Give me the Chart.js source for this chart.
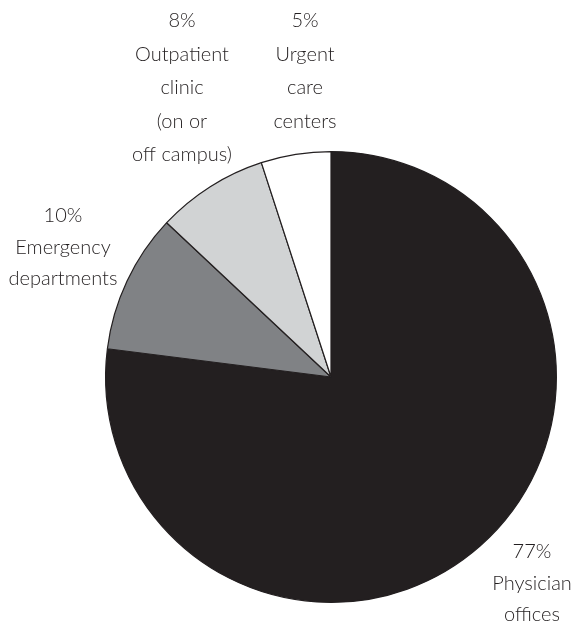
<!DOCTYPE html>
<html>
<head>
<meta charset="utf-8">
<script src="https://cdn.jsdelivr.net/npm/chart.js@4"></script>
<style>
  html, body { margin: 0; padding: 0; background: #fff; }
  #wrap { width: 572px; height: 624px; }
</style>
</head>
<body>
<div id="wrap"><canvas id="careChart" width="572" height="624"></canvas></div>
<script>
// Datos del gráfico
const categories = [
    ['Physician', 'offices'],
    ['Emergency', 'departments'],
    ['Outpatient', 'clinic', '(on or', 'off campus)'],
    ['Urgent', 'care', 'centers']
];
const shares = [77, 10, 8, 5];
const sliceColors = ['#231f20', '#808285', '#d1d3d4', '#ffffff'];

// dónde va cada etiqueta (centro x, línea base del porcentaje)
const labelSpots = [
    { x: 532, y: 558, gap: 31.5 },
    { x: 63, y: 222, gap: 31.5 },
    { x: 182, y: 27, gap: 33.5 },
    { x: 305, y: 27, gap: 33.5 }
];

const labelPlugin = {
    id: 'sliceLabels',
    afterDraw(chart) {
        const ctx = chart.ctx;
        ctx.save();
        ctx.fillStyle = '#231f20';
        ctx.font = '300 20px Lato, "Noto Sans", sans-serif';
        ctx.textAlign = 'center';
        ctx.textBaseline = 'alphabetic';
        chart.data.datasets[0].data.forEach((v, i) => {
            const spot = labelSpots[i];
            const lines = [v + '%'].concat(chart.data.labels[i]);
            lines.forEach((txt, j) => {
                ctx.fillText(txt, spot.x, spot.y + j * spot.gap);
            });
        });
        ctx.restore();
    }
};

document.addEventListener('DOMContentLoaded', function () {
    const ctx = document.getElementById('careChart').getContext('2d');
    new Chart(ctx, {
        type: 'pie',
        data: {
            labels: categories,
            datasets: [{
                data: shares,
                backgroundColor: sliceColors,
                borderColor: '#231f20',
                borderWidth: 1.2
            }]
        },
        options: {
            responsive: false,
            animation: false,
            layout: { padding: { left: 105, right: 15, top: 151, bottom: 21 } },
            plugins: {
                legend: { display: false },
                tooltip: { enabled: false }
            }
        },
        plugins: [labelPlugin]
    });
});
</script>
</body>
</html>
